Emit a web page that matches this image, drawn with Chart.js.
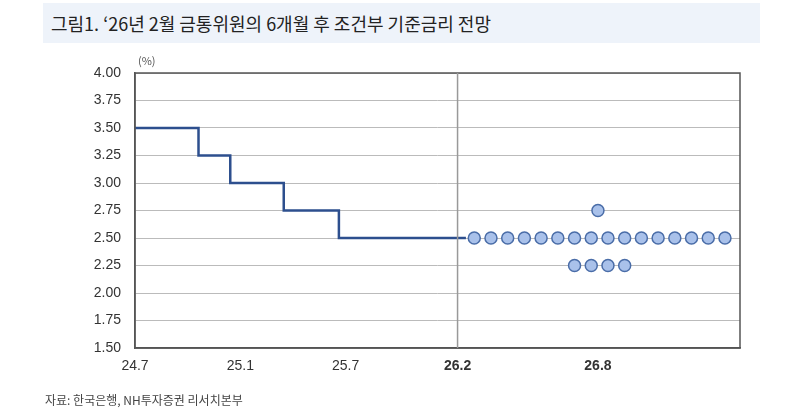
<!DOCTYPE html><html><head><meta charset="utf-8">
<script src="https://cdn.jsdelivr.net/npm/chart.js@4"></script>
<style>body{margin:0;background:#fff;font-family:"Noto Sans CJK KR","Noto Sans",sans-serif}
#t{position:absolute;left:43px;top:3px;width:717px;height:40px;background:#eef3fa;font-size:18px;line-height:40px;padding-left:8px;color:#222;box-sizing:border-box}
#u{position:absolute;left:138px;top:52px;font-size:11px;color:#555}
#s{position:absolute;left:45px;top:391px;font-size:12px;color:#444}
#w{position:absolute;left:0;top:0;width:800px;height:415px}</style></head><body>
<div id="w"><canvas id="c" width="800" height="415"></canvas></div>
<div id="t">그림1. ‘26년 2월 금통위원의 6개월 후 조건부 기준금리 전망</div>
<div id="u">(%)</div>
<div id="s">자료: 한국은행, NH투자증권 리서치본부</div>
<script>
const tickPos=[0,6.3,12.6,19.3,27.7];
const tickLabels=["24.7","25.1","25.7","26.2","26.8"];
const pathX=[0,3.8,3.8,5.7,5.7,8.9,8.9,12.2,12.2,19.8];
const pathY=[3.5,3.5,3.25,3.25,3.0,3.0,2.75,2.75,2.5,2.5];
const dotsMidX=[20.3,21.3,22.3,23.3,24.3,25.3,26.3,27.3,28.3,29.3,30.3,31.3,32.3,33.3,34.3,35.3];
const dotsMidY=dotsMidX.map(()=>2.5);
const dotsHighX=[27.7];const dotsHighY=[2.75];
const dotsLowX=[26.3,27.3,28.3,29.3];const dotsLowY=[2.25,2.25,2.25,2.25];
const pts=(xs,ys)=>xs.map((x,i)=>({x,y:ys[i]}));
const dotStyle={showLine:false,pointRadius:6,pointBackgroundColor:'#a9c1ea',pointBorderColor:'#4a6da8',pointBorderWidth:1.5};
new Chart(document.getElementById('c'),{type:'scatter',
data:{datasets:[
{data:pts(pathX,pathY),showLine:true,borderColor:'#2d4f8e',borderWidth:2.5,pointRadius:0},
Object.assign({data:pts(dotsMidX,dotsMidY)},dotStyle),
Object.assign({data:pts(dotsHighX,dotsHighY)},dotStyle),
Object.assign({data:pts(dotsLowX,dotsLowY)},dotStyle)]},
options:{responsive:false,animation:false,layout:{padding:{left:0,right:60,top:73,bottom:37}},
plugins:{legend:{display:false},tooltip:{enabled:false}},
scales:{
x:{type:'linear',min:0,max:36.2,afterFit:a=>{a.height=30},
afterBuildTicks:a=>{a.ticks=tickPos.map(v=>({value:v}))},
grid:{display:false,drawTicks:false},border:{color:'#555',width:1.5},
ticks:{maxRotation:0,padding:10,color:'#333',font:c=>({size:14,family:'Arial, Liberation Sans',weight:(c.index>=3?'bold':'normal')}),callback:(v,i)=>tickLabels[i]}},
y:{min:1.5,max:4.0,afterFit:a=>{a.width=135},
ticks:{stepSize:0.25,padding:14,color:'#333',font:{size:14,family:'Arial, Liberation Sans'},callback:v=>v.toFixed(2)},
grid:{color:'#bbb',lineWidth:1,drawTicks:false},border:{color:'#555',width:1.5}}}},
plugins:[{id:'box',afterDraw(ch){const a=ch.chartArea,x=ch.ctx;x.save();x.strokeStyle='#555';x.lineWidth=1.5;x.strokeRect(a.left,a.top,a.right-a.left,a.bottom-a.top);
const vx=ch.scales.x.getPixelForValue(19.3);x.strokeStyle='#999';x.lineWidth=1.5;x.beginPath();x.moveTo(vx,a.top);x.lineTo(vx,a.bottom);x.stroke();x.restore();}}]
});
</script></body></html>
